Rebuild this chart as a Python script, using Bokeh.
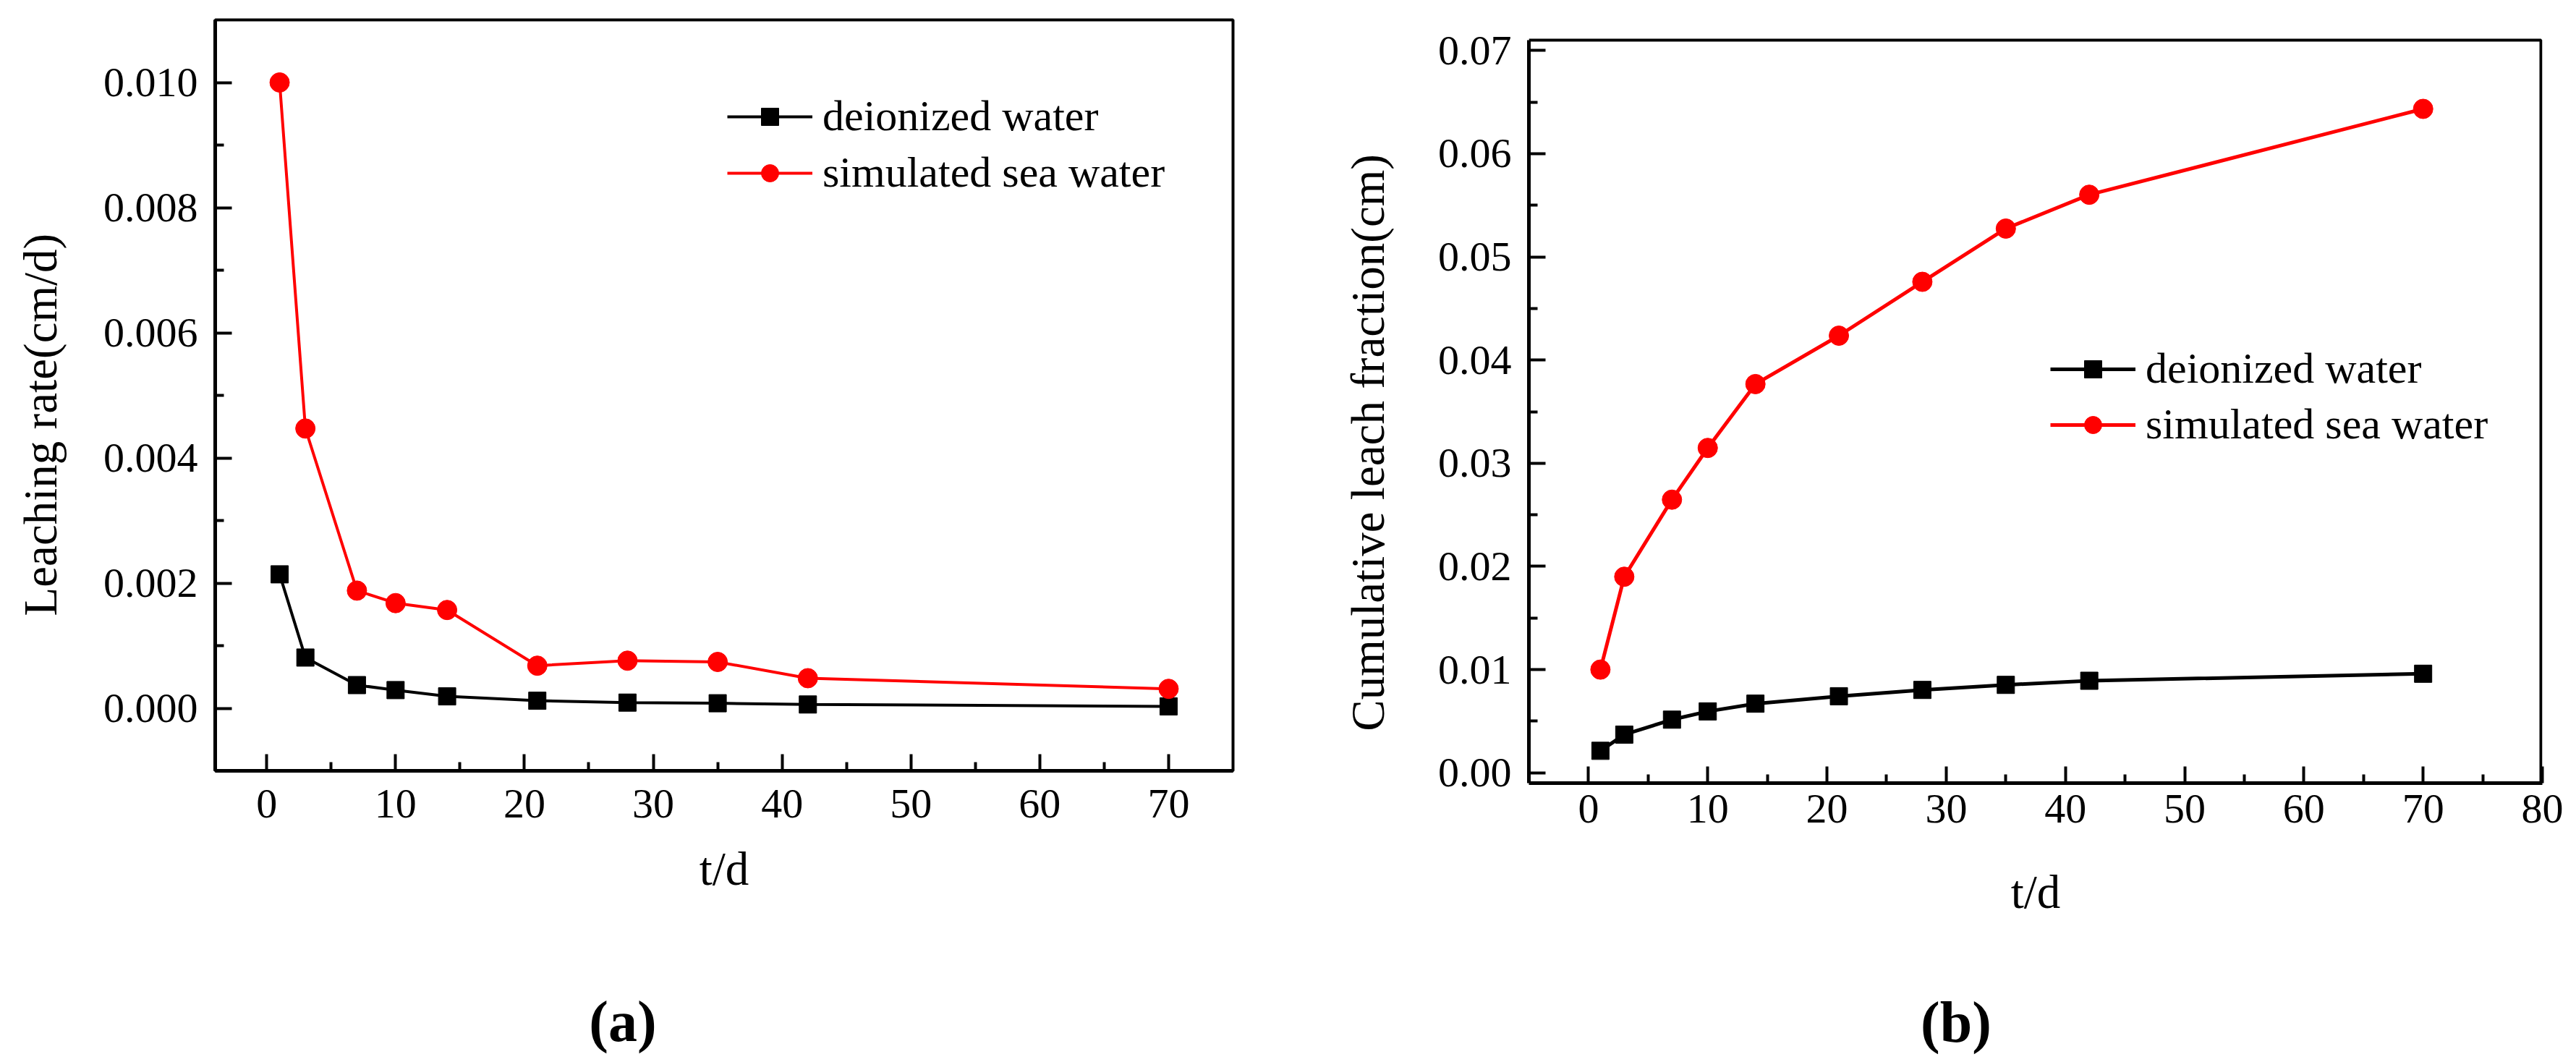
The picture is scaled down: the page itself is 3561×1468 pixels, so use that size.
from bokeh.plotting import figure
from bokeh.models import (Range1d, FixedTicker, NumeralTickFormatter, Legend,
                          LegendItem, LinearAxis)
from bokeh.layouts import row, column
from bokeh.embed import file_html
from bokeh.resources import INLINE

# ---------------- data ----------------
days = [1, 3, 7, 10, 14, 21, 28, 35, 42, 70]
rate_deionized = [0.00214, 0.00081, 0.00037, 0.00029, 0.00019,
                  0.00012, 0.00009, 0.00008, 0.00006, 0.00003]
rate_sea = [0.0100, 0.00447, 0.00188, 0.00168, 0.00157,
            0.00068, 0.00076, 0.00074, 0.00048, 0.00031]
cum_deionized = [0.00213, 0.0037, 0.00515, 0.00595, 0.0067,
                 0.00742, 0.00803, 0.00852, 0.00892, 0.0096]
cum_sea = [0.0100, 0.0190, 0.02647, 0.03148, 0.03767,
           0.04236, 0.04758, 0.05274, 0.05602, 0.06434]

series_names = ["deionized water", "simulated sea water"]

xticks_a = [0, 10, 20, 30, 40, 50, 60, 70]
xminor_a = [5, 15, 25, 35, 45, 55, 65]
yticks_a = [0.0, 0.002, 0.004, 0.006, 0.008, 0.010]
yminor_a = [0.001, 0.003, 0.005, 0.007, 0.009]

xticks_b = [0, 10, 20, 30, 40, 50, 60, 70, 80]
xminor_b = [5, 15, 25, 35, 45, 55, 65, 75]
yticks_b = [0.0, 0.01, 0.02, 0.03, 0.04, 0.05, 0.06, 0.07]
yminor_b = [0.005, 0.015, 0.025, 0.035, 0.045, 0.055, 0.065]

# axis box limits of each panel
box_a_x = (-4, 75)
box_a_y = (-0.001, 0.011)
box_b_x = (-5, 80)
box_b_y = (-0.001, 0.071)

FONT = "Liberation Serif"
RED = "#ff0000"
NBSP = "\u00a0"


def style(p, xt, xm, yt, ym, yfmt, xtick_stand, xlabel_stand):
    p.xaxis.ticker = FixedTicker(ticks=xt, minor_ticks=xm)
    p.yaxis.ticker = FixedTicker(ticks=yt, minor_ticks=ym)
    p.yaxis.formatter = NumeralTickFormatter(format=yfmt)
    p.xaxis.formatter = NumeralTickFormatter(format="0")
    for ax in (p.xaxis[0], p.yaxis[0]):
        ax.axis_line_width = 5
        ax.axis_line_color = "black"
        ax.major_tick_in = 23
        ax.major_tick_out = 0
        ax.minor_tick_in = 12
        ax.minor_tick_out = 0
        ax.major_tick_line_width = 4
        ax.minor_tick_line_width = 4
        ax.major_tick_line_color = "black"
        ax.minor_tick_line_color = "black"
        ax.major_label_text_font = FONT
        ax.major_label_text_font_size = "58px"
        ax.major_label_text_color = "black"
    p.xaxis.major_label_standoff = xtick_stand
    p.yaxis.major_label_standoff = 24
    p.xaxis.axis_label = "t/d"
    p.xaxis.axis_label_text_font = FONT
    p.xaxis.axis_label_text_font_size = "65px"
    p.xaxis.axis_label_text_font_style = "normal"
    p.xaxis.axis_label_text_color = "black"
    p.xaxis.axis_label_standoff = xlabel_stand
    p.xgrid.grid_line_color = None
    p.ygrid.grid_line_color = None
    p.background_fill_color = "white"
    p.border_fill_color = "white"


def label_axis(text, standoff, size, bold=False):
    return LinearAxis(ticker=FixedTicker(ticks=[]), axis_label=text,
                      axis_line_color=None,
                      major_tick_line_color=None, minor_tick_line_color=None,
                      major_label_text_font_size="0px",
                      axis_label_text_font=FONT,
                      axis_label_text_font_size=size,
                      axis_label_text_font_style="bold" if bold else "normal",
                      axis_label_text_color="black",
                      axis_label_standoff=standoff)


def add_series(p, y1, y2, lw, loc, spacing):
    l1 = p.line(days, y1, line_color="black", line_width=lw)
    s1 = p.scatter(days, y1, marker="square", size=24,
                   fill_color="black", line_color="black")
    l2 = p.line(days, y2, line_color=RED, line_width=lw)
    s2 = p.scatter(days, y2, marker="circle", size=27,
                   fill_color=RED, line_color=RED)
    legend = Legend(items=[LegendItem(label=series_names[0], renderers=[l1, s1]),
                           LegendItem(label=series_names[1], renderers=[l2, s2])],
                    location=loc, glyph_width=118, glyph_height=60,
                    label_height=60, label_standoff=14, spacing=spacing,
                    padding=0, margin=0, border_line_alpha=0,
                    background_fill_alpha=0, label_text_font=FONT,
                    label_text_font_size="60px", label_text_color="black")
    p.add_layout(legend)


# ---------------- panel (a) : box 27 .. 1065 px ----------------
pa = figure(width=1800, height=1468, x_range=Range1d(*box_a_x),
            y_range=Range1d(*box_a_y), output_backend="svg",
            toolbar_location=None, min_border_left=297, min_border_right=96,
            min_border_top=27, min_border_bottom=1468 - 1065)
style(pa, xticks_a, xminor_a, yticks_a, yminor_a, "0.000", 26, 32)
pa.outline_line_color = "black"
pa.outline_line_width = 4
add_series(pa, rate_deionized, rate_sea, 4, (708, 792), 9)
pa.add_layout(label_axis("Leaching rate(cm/d)" + NBSP * 5, 48, "65px"), "left")
pa.add_layout(label_axis("(a)" + NBSP * 14, 128, "80px", bold=True), "below")

# ---------------- panel (b) : box 55 .. 1082 px ----------------
# the frame reaches up to 27 px; the box top is drawn at 0.071
pb_scale = (1082 - 55) / (box_b_y[1] - box_b_y[0])
pb_ymax = box_b_y[1] + 28 / pb_scale
pb = figure(width=1761, height=1468, x_range=Range1d(*box_b_x),
            y_range=Range1d(box_b_y[0], pb_ymax), output_backend="svg",
            toolbar_location=None, min_border_left=313, min_border_right=47,
            min_border_top=27, min_border_bottom=1468 - 1082)
style(pb, xticks_b, xminor_b, yticks_b, yminor_b, "0.00", 16, 57)
pb.outline_line_color = None
pb.yaxis[0].bounds = box_b_y
xr_edge = box_b_x[1] - 2 / 16.48
pb.line([box_b_x[0], xr_edge, xr_edge],
        [box_b_y[1], box_b_y[1], box_b_y[0]],
        line_color="black", line_width=4)
add_series(pb, cum_deionized, cum_sea, 5, (721, 461), 8)
pb.add_layout(label_axis("Cumulative leach fraction(cm)" + NBSP * 7, 58, "65px"), "left")
pb.add_layout(label_axis("(b)" + NBSP * 11, 97, "80px", bold=True), "below")

layout = row(pa, column(pb))
open("out.html", "w").write(file_html(layout, INLINE))
